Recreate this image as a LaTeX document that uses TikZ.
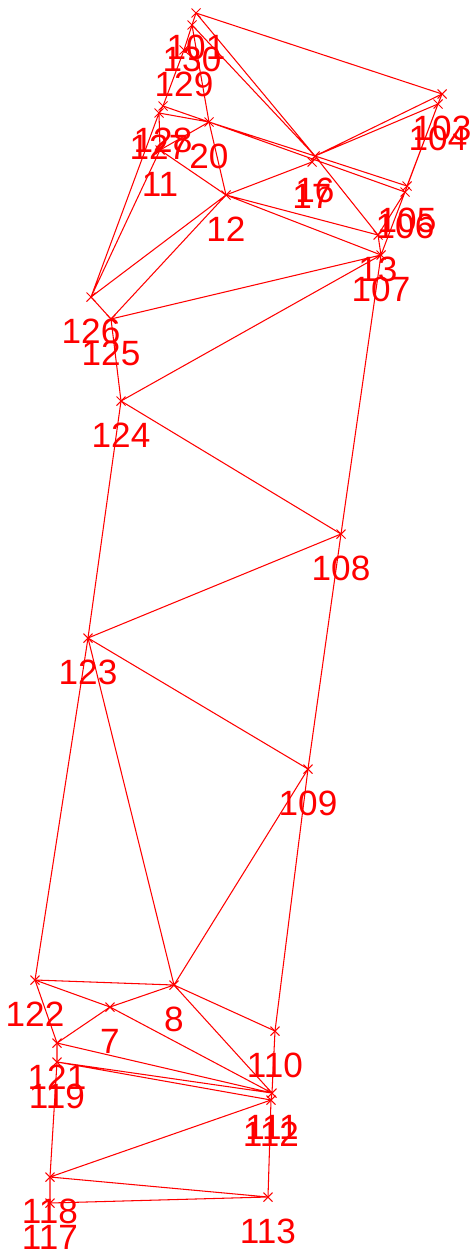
\documentclass[tikz,border=0pt]{standalone}
\usepackage{fontspec}
\setmainfont{Liberation Sans}
\usepackage{tikz}
\definecolor{meshred}{RGB}{255,0,0}

\tikzset{
  edge/.style={meshred, line width=0.6pt},
  ptlabel/.style={meshred, font=\fontsize{20}{20}\selectfont, inner sep=0pt, yshift=-0.68cm},
}
% cross marker plus number under it
\newcommand{\meshpt}[3]{%
  \coordinate (p#1) at (#2,#3);
  \draw[edge] ([shift={(-4.5,-4.5)}]p#1) -- ([shift={(4.5,4.5)}]p#1)
              ([shift={(-4.5,4.5)}]p#1) -- ([shift={(4.5,-4.5)}]p#1);
  \node[ptlabel] (l#1) at (p#1) {#1};
}

\begin{document}
\begin{tikzpicture}[x=0.02cm, y=-0.02cm]
\useasboundingbox (0,0) rectangle (471,1254);
% points (pixel positions)
\meshpt{101}{196}{13}
\meshpt{130}{192}{25}
\meshpt{129}{184}{50}
\meshpt{128}{163}{106}
\meshpt{127}{159}{113}
\meshpt{11}{160}{150}
\meshpt{20}{209}{122}
\meshpt{12}{226}{195}
\meshpt{16}{315}{156}
\meshpt{17}{312}{162}
\meshpt{103}{442}{94}
\meshpt{104}{438}{104}
\meshpt{105}{407}{186}
\meshpt{106}{405}{192}
\meshpt{13}{378}{235}
\meshpt{107}{381}{255}
\meshpt{126}{91}{297}
\meshpt{125}{111}{319}
\meshpt{124}{121}{401}
\meshpt{108}{341}{534}
\meshpt{123}{88}{638}
\meshpt{109}{308}{769}
\meshpt{122}{35}{980}
\meshpt{8}{174}{985}
\meshpt{7}{110}{1007}
\meshpt{110}{275}{1031}
\meshpt{121}{57}{1043}
\meshpt{119}{57}{1062}
\meshpt{111}{272}{1093}
\meshpt{112}{271}{1100}
\meshpt{118}{50}{1177}
\meshpt{117}{50}{1203}
\meshpt{113}{268}{1197}
% top cluster
\draw[edge] (p101) -- (p130) (p101) -- (p103) (p101) -- (p16) (p130) -- (p16)
  (p130) -- (p20) (p130) -- (p129) (p129) -- (p128) (p128) -- (p127)
  (p128) -- (p20) (p127) -- (p20) (p127) -- (p11) (p126) -- (p11)
  (p126) -- (p127) (p11) -- (p20) (p11) -- (p12) (p20) -- (p12)
  (p20) -- (p16) (p20) -- (p106) (p16) -- (p17) (p16) -- (p105)
  (p16) -- (p103) (p16) -- (p104) (p17) -- (p12) (p16) -- (p13)
  (p103) -- (p104) (p104) -- (p105) (p104) -- (p106) (p105) -- (p106)
  (p106) -- (p13) (p106) -- (p107) (p13) -- (p107)
  (p12) -- (p13) (p12) -- (p107) (p12) -- (p126) (p12) -- (p125);
% middle strip
\draw[edge] (p126) -- (p125) (p125) -- (p107) (p125) -- (p124) (p124) -- (p107)
  (p107) -- (p108) (p124) -- (p108) (p124) -- (p123) (p123) -- (p108)
  (p108) -- (p109) (p123) -- (p109) (p123) -- (p122) (p123) -- (p8)
  (p109) -- (p8) (p109) -- (p110);
% bottom cluster
\draw[edge] (p122) -- (p8) (p122) -- (p7) (p122) -- (p121) (p7) -- (p8)
  (p7) -- (p121) (p7) -- (p111) (p8) -- (p110) (p8) -- (p111)
  (p110) -- (p111) (p121) -- (p111) (p121) -- (p119) (p119) -- (p111)
  (p119) -- (p112) (p111) -- (p112) (p119) -- (p118) (p118) -- (p112)
  (p118) -- (p117) (p118) -- (p113) (p117) -- (p113) (p112) -- (p113);
\end{tikzpicture}
\end{document}
